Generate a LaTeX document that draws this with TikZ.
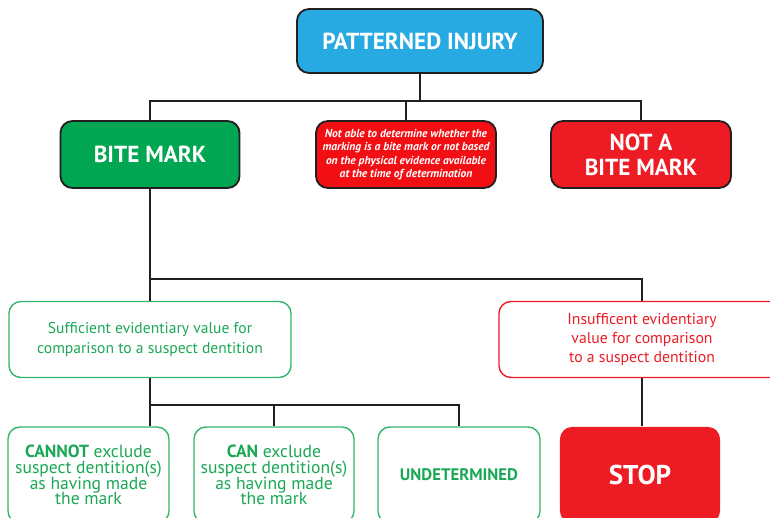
\documentclass[tikz,border=0pt]{standalone}
\usepackage{fontspec}
\setmainfont{PT Sans}
\definecolor{injblue}{HTML}{27AAE1}
\definecolor{bitegreen}{HTML}{00A651}
\definecolor{stopred}{HTML}{ED1C24}
\definecolor{unsurered}{HTML}{F20F14}
\definecolor{boxline}{HTML}{231F20}
\definecolor{rimgreen}{HTML}{33B56B}
\definecolor{textgreen}{HTML}{1BA856}
\newcommand\tightlines{\lineskiplimit=-10pt\relax}
\tikzset{
  box/.style={rectangle, rounded corners=0.3cm, align=center, inner sep=2pt},
  fillbox/.style={box, draw=boxline, line width=1.3pt, text=white,
    font=\bfseries\fontsize{16.5}{18}\selectfont},
  greenbox/.style={box, draw=rimgreen, line width=1pt, fill=white, text=textgreen,
    font=\fontsize{12.5}{11.2}\selectfont\tightlines},
  redbox/.style={box, draw=stopred, line width=1pt, fill=white, text=stopred,
    font=\fontsize{11.2}{13.6}\selectfont},
  conn/.style={draw=boxline, line width=1.8pt},
}
\begin{document}
\begin{tikzpicture}[x=0.025cm, y=-0.025cm]
\useasboundingbox (0,0) rectangle (770,518);
\clip (0,0) rectangle (770,518);
% Kaesten oben
\node[fillbox, fill=injblue, minimum width=6.15cm, minimum height=1.6cm] (inj) at (420,41) {PATTERNED INJURY};
\node[fillbox, fill=bitegreen, minimum width=4.475cm, minimum height=1.675cm] (bite) at (150,154.5) {BITE MARK};
\node[fillbox, fill=unsurered, minimum width=4.5cm, minimum height=1.675cm,
  font=\bfseries\itshape\fontsize{8.2}{9.4}\selectfont] (unsure) at (406,154.5)
  {Not able to determine whether the\\marking is a bite mark or not based\\on the physical evidence available\\at the time of determination};
\node[fillbox, fill=stopred, minimum width=4.5cm, minimum height=1.675cm] (notbite) at (641,154.5) {NOT A\\BITE MARK};
% Mitte
\node[greenbox, minimum width=7.05cm, minimum height=1.9cm, font=\fontsize{11.1}{14.2}\selectfont] (suff) at (150,339.5)
  {Sufficient evidentiary value for\\comparison to a suspect dentition};
\node[redbox, minimum width=7.15cm, minimum height=1.9cm] (insuff) at (642,339.5)
  {Insufficent evidentiary\\value for comparison\\to a suspect dentition};
% unten
\node[greenbox, minimum width=4.025cm, minimum height=2.4cm] (cannot) at (88.5,475)
  {\textbf{CANNOT} exclude\\suspect dentition(s)\\as having made\\the mark};
\node[greenbox, minimum width=4cm, minimum height=2.4cm] (can) at (274,475)
  {\textbf{CAN} exclude\\suspect dentition(s)\\as having made\\the mark};
\node[greenbox, minimum width=4.05cm, minimum height=2.4cm, font=\bfseries\fontsize{11.9}{13}\selectfont] (undet) at (459,475) {UNDETERMINED};
\node[fillbox, draw=none, fill=stopred, minimum width=4cm, minimum height=2.4cm,
  font=\bfseries\fontsize{19.3}{21}\selectfont] (stop) at (640,475) {STOP};
% Verbindungen
\coordinate (j1) at (420,101);
\coordinate (j2) at (150,279);
\coordinate (j3) at (150,405);
\draw[conn] (inj.south) -- (j1);
\draw[conn] (bite.north) |- (j1) -| (notbite.north);
\draw[conn] (j1 -| unsure.north) -- (unsure.north);
\draw[conn] (bite.south) -- (suff.north);
\draw[conn] (j2) -| (insuff.north);
\draw[conn] (suff.south) -- (j3) -| (undet.north);
\draw[conn] (j3) -- (j3 |- cannot.north);
\draw[conn] (j3 -| can.north) -- (can.north);
\draw[conn] (insuff.south) -- (insuff.south |- stop.north);
\end{tikzpicture}
\end{document}
